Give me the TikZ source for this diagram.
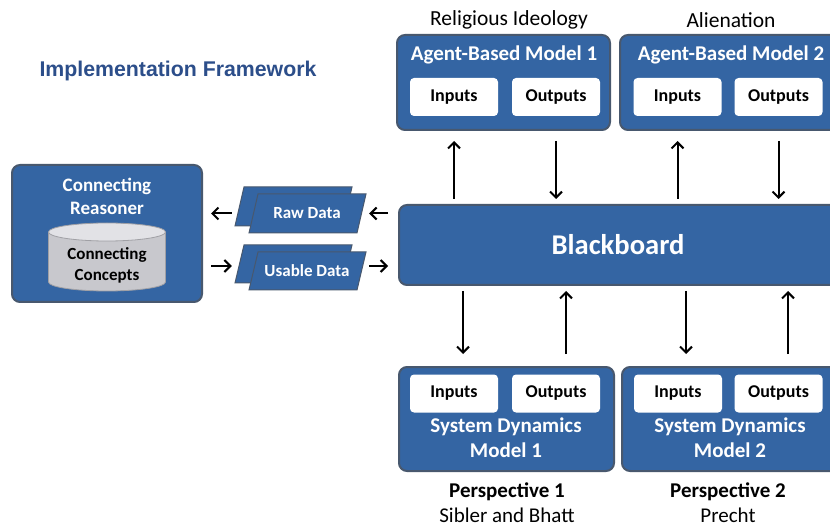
\documentclass[tikz,border=0pt]{standalone}
\usepackage{fontspec}
\setmainfont{Carlito}
\newfontfamily\arialf{Liberation Sans}
\usetikzlibrary{arrows.meta,shapes.geometric}
\definecolor{boxblue}{RGB}{52,101,163}
\definecolor{boxedge}{RGB}{72,88,110}
\definecolor{titleblue}{RGB}{44,78,138}
\definecolor{cylbody}{RGB}{200,200,205}
\definecolor{cyltopc}{RGB}{226,226,230}
\definecolor{cyledge}{RGB}{160,160,165}
\begin{document}
\begin{tikzpicture}[x=1pt,y=-1pt,
 bluebox/.style={draw=boxedge, line width=2pt, fill=boxblue, rounded corners=8pt, inner sep=0pt},
 whitebox/.style={fill=white, rounded corners=4pt, minimum width=88pt, minimum height=38pt, inner sep=0pt, font=\fontsize{18}{20}\selectfont\bfseries},
 boxtitle/.style={text=white, font=\fontsize{21}{25}\selectfont\bfseries, align=center, inner sep=0pt},
 caption/.style={font=\fontsize{21}{25}\selectfont, inner sep=0pt},
 captionb/.style={font=\fontsize{21}{25}\selectfont\bfseries, inner sep=0pt},
 arr/.style={line width=2pt, -{Straight Barb[length=6pt,width=12pt,line width=2pt]}},
 para/.style={fill=boxblue, draw=boxedge, line width=1pt},
 datatext/.style={text=white, font=\fontsize{17}{19}\selectfont\bfseries, inner sep=0pt},
]
\useasboundingbox (0,0) rectangle (830,529);
\clip (0,0) rectangle (830,529);
\fill[white] (0,0) rectangle (830,529);

% title
\node[text=titleblue, font=\arialf\fontsize{21.3}{25}\selectfont\bfseries, inner sep=0pt] (title) at (178,71) {Implementation Framework};

% agent-based models
\node[caption, font=\fontsize{21.5}{25}\selectfont] (cap1) at (509,20) {Religious Ideology};
\node[caption, font=\fontsize{21.5}{25}\selectfont] (cap2) at (731,20) {Alienation};
\node[bluebox, minimum width=213pt, minimum height=95pt] (abm1) at (503.5,82.5) {};
\node[boxtitle] (abm1t) at (504,55) {Agent-Based Model 1};
\node[whitebox] (abm1in) at (454,97) {Inputs};
\node[whitebox] (abm1out) at (556,97) {Outputs};
\node[bluebox, minimum width=220pt, minimum height=95pt] (abm2) at (730,82.5) {};
\node[boxtitle] (abm2t) at (731,55) {Agent-Based Model 2};
\node[whitebox] (abm2in) at (677.5,97) {Inputs};
\node[whitebox] (abm2out) at (778.5,97) {Outputs};

% blackboard
\node[bluebox, minimum width=440pt, minimum height=80pt] (bb) at (619,245) {};
\node[text=white, font=\fontsize{28.6}{32}\selectfont\bfseries, inner sep=0pt] (bbt) at (618,245) {Blackboard};

% system dynamics models
\node[bluebox, minimum width=215pt, minimum height=104pt] (sd1) at (506.5,419) {};
\node[whitebox] (sd1in) at (454,393.5) {Inputs};
\node[whitebox] (sd1out) at (556,393.5) {Outputs};
\node[boxtitle] (sd1t) at (506,438) {System Dynamics\\Model 1};
\node[bluebox, minimum width=218pt, minimum height=104pt] (sd2) at (731,419) {};
\node[whitebox] (sd2in) at (678,393.5) {Inputs};
\node[whitebox] (sd2out) at (778.5,393.5) {Outputs};
\node[boxtitle] (sd2t) at (730,438) {System Dynamics\\Model 2};
\node[captionb] (p1) at (507,492) {Perspective 1};
\node[caption] (p1s) at (507,515.5) {Sibler and Bhatt};
\node[captionb] (p2) at (728,492) {Perspective 2};
\node[caption] (p2s) at (728,515.5) {Precht};

% connecting reasoner
\node[bluebox, minimum width=190pt, minimum height=137pt] (cr) at (107,233.5) {};
\node[boxtitle, font=\fontsize{19}{23}\selectfont\bfseries] (crt) at (107,196.5) {Connecting\\Reasoner};
\node[ellipse, fill=cylbody, draw=cyledge, line width=0.8pt, minimum width=117pt, minimum height=18pt, inner sep=0pt] (cylbot) at (107,282) {};
\fill[cylbody] (48.5,232) rectangle (165.5,282);
\draw[cyledge, line width=0.8pt] (48.5,232) -- (48.5,282) (165.5,232) -- (165.5,282);
\node[ellipse, fill=cyltopc, draw=cyledge, line width=0.8pt, minimum width=117pt, minimum height=18pt, inner sep=0pt] (cyltop) at (107,232) {};
\node[font=\fontsize{17}{21}\selectfont\bfseries, align=center, inner sep=0pt] (cc) at (107,265) {Connecting\\Concepts};

% data parallelograms
\fill[para] (244,187) -- (352,187) -- (343,226) -- (235,226) -- cycle;
\fill[para] (258,194) -- (366,194) -- (357,233) -- (249,233) -- cycle;
\node[datatext] (raw) at (307,213.5) {Raw Data};
\node[inner sep=0pt, minimum width=131pt, minimum height=46pt] (rawshape) at (300.5,210) {};
\fill[para] (244,245) -- (352,245) -- (343,283) -- (235,283) -- cycle;
\fill[para] (258,252) -- (366,252) -- (357,290) -- (249,290) -- cycle;
\node[datatext] (usable) at (307,271) {Usable Data};
\node[inner sep=0pt, minimum width=131pt, minimum height=45pt] (usableshape) at (300.5,266) {};

% arrows: data
\draw[arr, shorten <=3pt, shorten >=8pt] (rawshape.west |- raw) -- (cr.east |- raw);
\draw[arr, shorten <=10pt, shorten >=3pt] (bb.west |- raw) -- (rawshape.east |- raw);
\draw[arr, shorten <=8pt, shorten >=3pt] (cr.east |- usableshape) -- (usableshape.west);
\draw[arr, shorten <=3pt, shorten >=10pt] (usableshape.east) -- (bb.west |- usableshape);

% arrows: top
\draw[arr, shorten <=5pt, shorten >=10pt] (bb.north -| abm1in) -- (abm1.south -| abm1in);
\draw[arr, shorten <=10pt, shorten >=5pt] (abm1.south -| abm1out) -- (bb.north -| abm1out);
\draw[arr, shorten <=5pt, shorten >=10pt] (bb.north -| abm2in) -- (abm2.south -| abm2in);
\draw[arr, shorten <=10pt, shorten >=5pt] (abm2.south -| abm2out) -- (bb.north -| abm2out);

% arrows: bottom
\coordinate (d1) at (463,0);
\coordinate (u1) at (566,0);
\coordinate (d2) at (686,0);
\coordinate (u2) at (788,0);
\draw[arr, shorten <=5pt, shorten >=12pt] (bb.south -| d1) -- (sd1.north -| d1);
\draw[arr, shorten <=12pt, shorten >=5pt] (sd1.north -| u1) -- (bb.south -| u1);
\draw[arr, shorten <=5pt, shorten >=12pt] (bb.south -| d2) -- (sd2.north -| d2);
\draw[arr, shorten <=12pt, shorten >=5pt] (sd2.north -| u2) -- (bb.south -| u2);
\end{tikzpicture}
\end{document}
